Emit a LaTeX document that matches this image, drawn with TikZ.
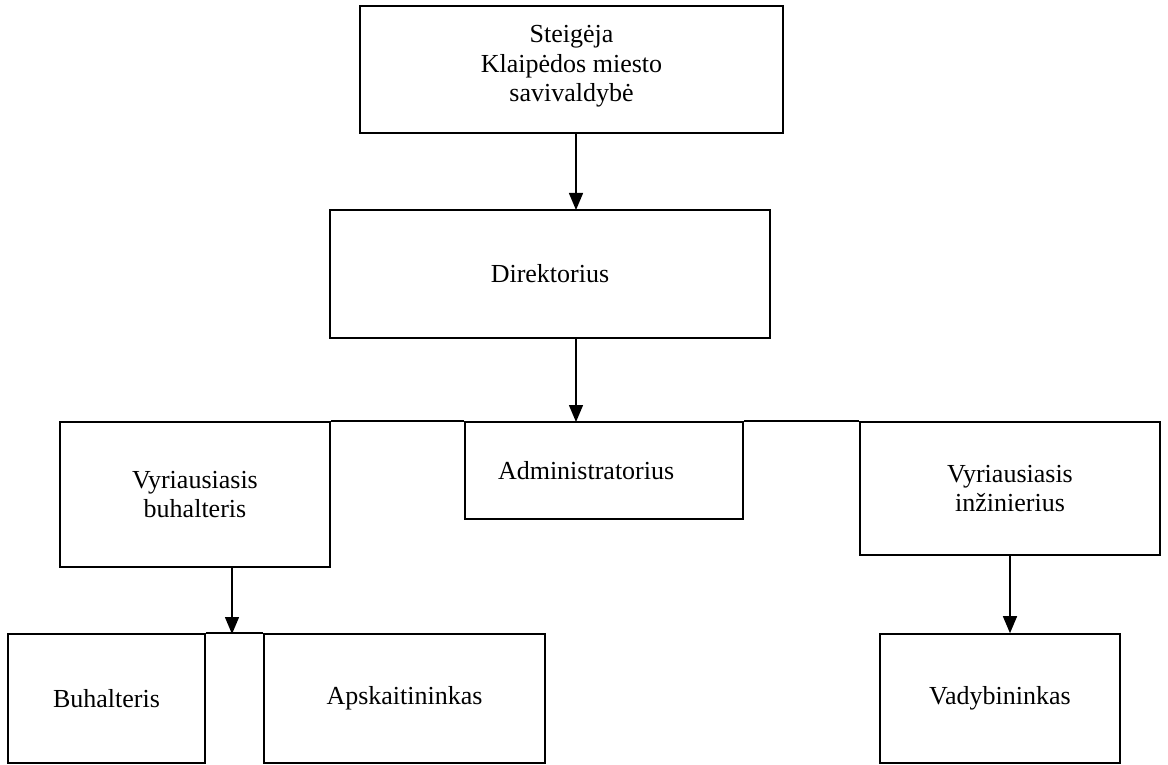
\documentclass[tikz,border=0pt]{standalone}
\usepackage{fontspec}
\setmainfont{Liberation Serif}
\usetikzlibrary{arrows.meta}
\begin{document}
\begin{tikzpicture}[x=1pt, y=-1pt,
  box/.style={draw, line width=1.6pt, align=center, inner sep=0pt, font=\fontsize{26}{29.5}\selectfont},
  arr/.style={line width=1.4pt, -{Triangle[width=14pt,length=17pt]}}]
\useasboundingbox (0,0) rectangle (1168,765);
\node[box, minimum width=423pt, minimum height=127pt] (steig) at (571.5,69.5){Steigėja\\Klaipėdos miesto\\savivaldybė\\[-17.5pt]};
\node[box, minimum width=440pt, minimum height=128pt] (dir) at (550,274){Direktorius};
\draw[arr](steig.south -| 576,0) -- (576,210);
\node[box, minimum width=270pt, minimum height=145pt] (vbuh) at (195,494.5){Vyriausiasis\\buhalteris};
\node[box, text width=212pt, inner xsep=33pt, align=left, minimum height=97pt] (admin) at (604,470.5){Administratorius};
\node[box, minimum width=300pt, minimum height=133pt] (vinz) at (1010,488.5){Vyriausiasis\\inžinierius};
\draw[line width=1.6pt](vbuh.north east) -- (admin.north west);
\draw[line width=1.6pt](admin.north east) -- (vinz.north west);
\draw[arr](dir.south -| 576,0) -- (576,422);
\node[box, minimum width=197pt, minimum height=129pt] (buhalt) at (106.5,698.5){Buhalteris};
\node[box, minimum width=281pt, minimum height=129pt] (apsk) at (404.5,698.5){Apskaitininkas};
\node[box, minimum width=240pt, minimum height=129pt] (vadyb) at (1000,698.5){Vadybininkas};
\draw[line width=1.6pt](buhalt.north east) -- (apsk.north west);
\draw[arr](vbuh.south -| 232,0) -- (232,634);
\draw[arr](vinz.south) -- (vinz.south |- vadyb.north);
\end{tikzpicture}
\end{document}
